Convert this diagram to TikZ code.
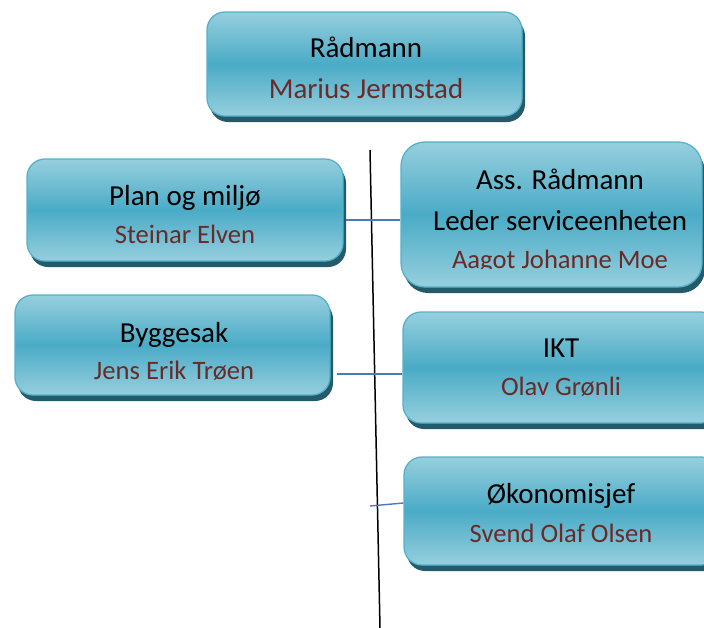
\documentclass[tikz,border=0pt]{standalone}
\usepackage{fontspec}
\setmainfont{Carlito}
\usetikzlibrary{shadows,calc}
\definecolor{boxlight}{HTML}{96CFDE}
\definecolor{boxmid}{HTML}{4AABC6}
\definecolor{boxedge}{HTML}{55B1CA}
\definecolor{boxshadow}{HTML}{235B6A}
\definecolor{namecol}{HTML}{6A2A28}
\definecolor{conncol}{HTML}{4A78C2}
\begin{document}
\begin{tikzpicture}[x=1pt,y=-1pt,
  orgbox/.style={draw=boxedge, line width=1.3pt, rounded corners=18pt,
    top color=boxlight, bottom color=boxlight, middle color=boxmid,
    drop shadow={shadow xshift=3pt, shadow yshift=-6pt, fill=boxshadow, opacity=1},
    inner sep=0pt},
  ttl/.style={anchor=base, inner sep=0pt, font=\fontsize{29}{34}\selectfont, text=black},
  nm/.style={anchor=base, inner sep=0pt, font=\fontsize{26.6}{32}\selectfont, text=namecol},
  conn/.style={draw=conncol, line width=1.4pt},
  vline/.style={draw=black, line width=1.5pt}]
\useasboundingbox (0,0) rectangle (704,627);
\clip (0,0) rectangle (704,627);

% boxes
\node[orgbox, minimum width=315pt, minimum height=104pt] (radm) at (364.5,64) {};
\node[orgbox, minimum width=316pt, minimum height=102pt] (plan) at (185,210) {};
\node[orgbox, rounded corners=24pt, minimum width=301pt, minimum height=145pt] (ass) at (551.5,214.5) {};
\node[orgbox, minimum width=315pt, minimum height=100pt] (bygg) at (172.5,345) {};
\node[orgbox, minimum width=316pt, minimum height=111pt] (ikt) at (561,367.5) {};
\node[orgbox, minimum width=315pt, minimum height=108pt] (oko) at (561.5,511) {};

% texts
\node[ttl] (radmT) at (366,57) {Rådmann};
\node[nm, font=\fontsize{28.9}{34}\selectfont] (radmN) at (366,98) {Marius Jermstad};
\node[ttl] (planT) at (185,205) {Plan og miljø};
\node[nm] (planN) at (185,243) {Steinar Elven};
\node[ttl] (assT) at (560,189) {Ass. Rådmann};
\node[ttl] (assL) at (560,230) {Leder serviceenheten};
\begin{scope}
  \clip (380,150) rectangle (704,268.5);
  \node[nm] (assN) at (560,268) {Aagot Johanne Moe};
\end{scope}
\node[ttl] (byggT) at (174,342) {Byggesak};
\node[nm] (byggN) at (174,379) {Jens Erik Trøen};
\node[ttl] (iktT) at (561,357) {IKT};
\node[nm] (iktN) at (561,395) {Olav Grønli};
\node[ttl] (okoT) at (561,503) {Økonomisjef};
\node[nm] (okoN) at (561,542) {Svend Olaf Olsen};

% vertical line
\coordinate (vtop) at (370,150);
\coordinate (vbot) at (380,628);
\draw[vline] (vtop) -- (vbot);

% connectors
\draw[conn] ($(plan.east)+(2,10)$) -- ($(ass.west)+(0,5.5)$);
\draw[conn] ($(bygg.east)+(6,29)$) -- ($(ikt.west)+(0,6.5)$);
\coordinate (okoEnd) at (370,506);
\draw[conn] (okoEnd) -- ($(oko.west)+(0,-8)$);
\end{tikzpicture}
\end{document}
